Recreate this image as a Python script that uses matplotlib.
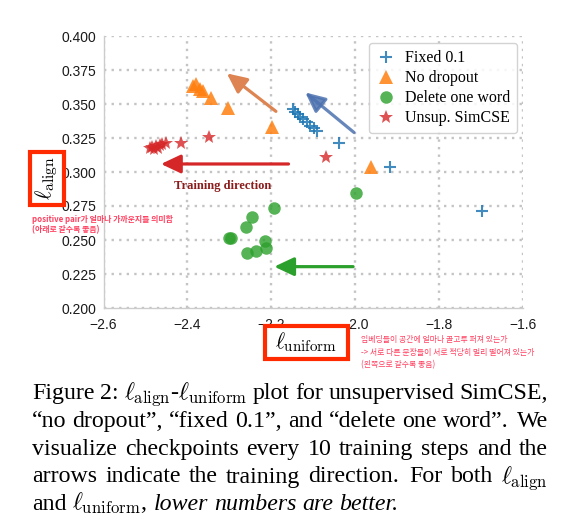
import matplotlib
matplotlib.use('Agg')
import matplotlib.pyplot as plt
from matplotlib.patches import Rectangle

plt.rcParams['mathtext.fontset'] = 'cm'

# ---------------- data ----------------
fixed_x = [-2.149, -2.143, -2.137, -2.131, -2.124, -2.116, -2.108, -2.099, -2.090, -2.038, -1.917, -1.698]
fixed_y = [0.3463, 0.3443, 0.3426, 0.3407, 0.3390, 0.3365, 0.3340, 0.3320, 0.3300, 0.3213, 0.3034, 0.2715]
nodrop_x = [-2.387, -2.379, -2.371, -2.363, -2.343, -2.304, -2.198, -1.963]
nodrop_y = [0.3635, 0.3647, 0.3610, 0.3593, 0.3544, 0.3470, 0.3328, 0.3040]
delete_x = [-1.997, -2.193, -2.247, -2.260, -2.301, -2.296, -2.216, -2.212, -2.236, -2.257]
delete_y = [0.2848, 0.2735, 0.2666, 0.2598, 0.2515, 0.2515, 0.2490, 0.2438, 0.2421, 0.2401]
simcse_x = [-2.490, -2.485, -2.480, -2.475, -2.470, -2.465, -2.460, -2.452, -2.416, -2.349, -2.070]
simcse_y = [0.3180, 0.3185, 0.3172, 0.3190, 0.3180, 0.3195, 0.3205, 0.3213, 0.3210, 0.3254, 0.3107]

series_labels = ["Fixed 0.1", "No dropout", "Delete one word", "Unsup. SimCSE"]

# arrows: (tail_x, tail_y, tip_x, tip_y)
arrow_orange = (-2.189, 0.3446, -2.306, 0.3725)
arrow_blue = (-2.003, 0.3291, -2.119, 0.3585)
arrow_red = (-2.159, 0.3059, -2.463, 0.3059)
arrow_green = (-2.005, 0.2304, -2.193, 0.2304)

x_ticks = [-2.6, -2.4, -2.2, -2.0, -1.8, -1.6]
x_ticklabels = ["\u22122.6", "\u22122.4", "\u22122.2", "\u22122.0", "\u22121.8", "\u22121.6"]
y_ticks = [0.200, 0.225, 0.250, 0.275, 0.300, 0.325, 0.350, 0.375, 0.400]
y_ticklabels = ["0.200", "0.225", "0.250", "0.275", "0.300", "0.325", "0.350", "0.375", "0.400"]

note_align = ["positive pair가 얼마나 가까운지를 의미함", "(아래로 갈수록 좋음)"]
note_uniform = ["임베딩들이 공간에 얼마나 골고루 퍼져 있는가",
                "-> 서로 다른 문장들이 서로 적당히 멀리 떨어져 있는가",
                "(왼쪽으로 갈수록 좋음)"]

caption_lines = [
    [("Figure", 'n'), ("2:", 'n'), (r"$\ell_{\rm align}$-$\ell_{\rm uniform}$", 'n'), ("plot", 'n'),
     ("for", 'n'), ("unsupervised", 'n'), ("SimCSE,", 'n')],
    [("\u201cno", 'n'), ("dropout\u201d,", 'n'), ("\u201cfixed", 'n'), ("0.1\u201d,", 'n'), ("and", 'n'),
     ("\u201cdelete", 'n'), ("one", 'n'), ("word\u201d.", 'n'), ("We", 'n')],
    [("visualize", 'n'), ("checkpoints", 'n'), ("every", 'n'), ("10", 'n'), ("training", 'n'),
     ("steps", 'n'), ("and", 'n'), ("the", 'n')],
    [("arrows", 'n'), ("indicate", 'n'), ("the", 'n'), ("training", 'n'), ("direction.", 'n'),
     ("For", 'n'), ("both", 'n'), (r"$\ell_{\rm align}$", 'n')],
    [("and", 'n'), (r"$\ell_{\rm uniform}$,", 'n'), ("lower", 'i'), ("numbers", 'i'), ("are", 'i'),
     ("better.", 'i')],
]

# ---------------- figure ----------------
W, H = 578, 532
fig = plt.figure(figsize=(W / 100, H / 100), dpi=100)
fig.patch.set_facecolor('white')

def fx(px):
    return px / W

def fy(py):
    return 1 - py / H

ax = fig.add_axes([fx(103.5), fy(308), 419.5 / W, 272 / H])
ax.set_xlim(-2.6, -1.6)
ax.set_ylim(0.2, 0.4)

ax.plot(fixed_x, fixed_y, linestyle='none', marker='+', ms=8, mew=1.5, color='#1f77b4', alpha=0.85,
        label=series_labels[0], zorder=3)
ax.plot(nodrop_x, nodrop_y, linestyle='none', marker='^', ms=9.5, color='#ff7f0e', alpha=0.85,
        markeredgewidth=0, label=series_labels[1], zorder=3)
ax.plot(delete_x, delete_y, linestyle='none', marker='o', ms=9, color='#2ca02c', alpha=0.8,
        markeredgewidth=0, label=series_labels[2], zorder=3)
ax.plot(simcse_x, simcse_y, linestyle='none', marker='*', ms=10.5, color='#d62728', alpha=0.8,
        markeredgewidth=0, label=series_labels[3], zorder=3)

def draw_arrow(a, color, alpha=1.0):
    ax.annotate('', xy=(a[2], a[3]), xytext=(a[0], a[1]),
                arrowprops=dict(arrowstyle='-|>,head_length=0.85,head_width=0.4', mutation_scale=14,
                                lw=2.3, color=color, alpha=alpha, shrinkA=0, shrinkB=0),
                zorder=4)

draw_arrow(arrow_orange, '#dd8452')
draw_arrow(arrow_blue, '#4c72b0', 0.85)
draw_arrow(arrow_red, '#d62728')
draw_arrow(arrow_green, '#2ca02c')

ax.text(-2.316, 0.2897, "Training direction", ha='center', va='center', fontsize=9,
        fontweight='bold', family='Liberation Serif', color='#8b1c1c')

ax.set_xticks(x_ticks)
ax.set_xticklabels(x_ticklabels, family='Liberation Sans', fontsize=10, color='#1a1a1a')
ax.set_yticks(y_ticks)
ax.set_yticklabels(y_ticklabels, family='Liberation Sans', fontsize=10, color='#1a1a1a')
ax.tick_params(axis='both', length=0)
ax.tick_params(axis='x', pad=7)
ax.tick_params(axis='y', pad=5)
ax.grid(True, linestyle=(0, (1, 2.2)), color='#c4c4c4', linewidth=1.7)
for s in ['top', 'right']:
    ax.spines[s].set_visible(False)
for s in ['left', 'bottom']:
    ax.spines[s].set_color('#cccccc')
    ax.spines[s].set_linewidth(1.0)

leg = ax.legend(loc='upper right', bbox_to_anchor=(0.986, 0.974), borderaxespad=0,
                prop={'family': 'Liberation Serif', 'size': 11.5},
                frameon=True, fancybox=True, framealpha=0.85, edgecolor='#cccccc',
                handlelength=1.2, handletextpad=0.6, labelspacing=0.25, borderpad=0.45)

# ---------------- axis-label boxes ----------------
red = '#ff2a00'
fig.patches.append(Rectangle((fx(30), fy(205)), 34 / W, 53 / H, transform=fig.transFigure,
                             facecolor='white', edgecolor=red, linewidth=3, zorder=5))
fig.patches.append(Rectangle((fx(265), fy(359)), 83 / W, 33 / H, transform=fig.transFigure,
                             facecolor='white', edgecolor=red, linewidth=3, zorder=5))
fig.text(fx(47), fy(178), r"$\ell_{\rm align}$", rotation=90, ha='center', va='center', fontsize=16, zorder=6)
fig.text(fx(306), fy(342), r"$\ell_{\rm uniform}$", ha='center', va='center', fontsize=15.5, zorder=6)

# ---------------- Korean notes ----------------
kfam = ['Noto Sans CJK KR', 'DejaVu Sans']
note_color = '#ff4060'
for line, py in zip(note_align, [219.3, 229.3]):
    fig.text(fx(31.5), fy(py), line, ha='left', va='center', fontsize=5.7, family=kfam,
             color=note_color, fontweight='bold', zorder=6)
for line, py in zip(note_uniform, [339.3, 352.3, 364.5]):
    fig.text(fx(361), fy(py), line, ha='left', va='center', fontsize=5.7, family=kfam,
             color=note_color, zorder=6)

# ---------------- caption (justified) ----------------
cap_size = 17.2
cap_left, cap_right = 32, 548
baselines = [399, 427, 455, 482.5, 510]
renderer = fig.canvas.get_renderer()

def make_word(s, style):
    return fig.text(0, 0, s, fontsize=cap_size, family='Liberation Serif',
                    style='italic' if style == 'i' else 'normal', ha='left', va='baseline')

tmp1 = make_word("x x", 'n')
tmp2 = make_word("xx", 'n')
space_w = tmp1.get_window_extent(renderer).width - tmp2.get_window_extent(renderer).width
tmp1.remove()
tmp2.remove()

for li, (tokens, base) in enumerate(zip(caption_lines, baselines)):
    words = [make_word(s, st) for s, st in tokens]
    widths = [w.get_window_extent(renderer).width for w in words]
    weights = [1.35 if tokens[i][0].endswith('.') else 1.0 for i in range(len(tokens) - 1)]
    last = (li == len(caption_lines) - 1)
    if last:
        gaps = [space_w * wt for wt in weights]
    else:
        total = (cap_right - cap_left) - sum(widths)
        unit = total / sum(weights)
        gaps = [unit * wt for wt in weights]
    x = cap_left
    for i, w in enumerate(words):
        w.set_position((fx(x), fy(base)))
        x += widths[i]
        if i < len(gaps):
            x += gaps[i]

fig.savefig('out.png', dpi=100, facecolor='white')
